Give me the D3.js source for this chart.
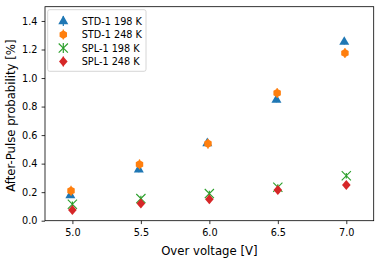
<!DOCTYPE html>
<html>
<head>
<meta charset="utf-8">
<script src="https://cdn.jsdelivr.net/npm/d3@7"></script>
<style>
  body { margin: 0; background: #fff; }
  text { font-family: "DejaVu Sans", sans-serif; }
</style>
</head>
<body>
<div id="chart"></div>
<script>
// series
const names = ["STD-1 198 K", "STD-1 248 K", "SPL-1 198 K", "SPL-1 248 K"];
const colors = ["#1f77b4", "#ff7f0e", "#2ca02c", "#d62728"];
const shapes = ["triangle", "hexagon", "cross", "diamond"];

const xStd198 = [4.985, 5.485, 5.985, 6.49, 6.985];
const yStd198 = [0.18, 0.36, 0.545, 0.85, 1.255];
const eStd198 = [0.02, 0.02, 0.02, 0.02, 0.02];

const xStd248 = [4.99, 5.49, 5.99, 6.495, 6.99];
const yStd248 = [0.21, 0.395, 0.54, 0.895, 1.175];
const eStd248 = [0.035, 0.035, 0.035, 0.035, 0.035];

const xSpl198 = [5.0, 5.5, 6.0, 6.5, 7.0];
const ySpl198 = [0.115, 0.155, 0.19, 0.235, 0.315];
const eSpl198 = [0.02, 0.02, 0.02, 0.02, 0.02];

const xSpl248 = [5.0, 5.5, 6.0, 6.5, 7.0];
const ySpl248 = [0.075, 0.12, 0.15, 0.215, 0.25];
const eSpl248 = [0.015, 0.015, 0.015, 0.015, 0.015];

const xTicks = [5.0, 5.5, 6.0, 6.5, 7.0];
const yTicks = [0.0, 0.2, 0.4, 0.6, 0.8, 1.0, 1.2, 1.4];

const series = [
  {x: xStd198, y: yStd198, e: eStd198},
  {x: xStd248, y: yStd248, e: eStd248},
  {x: xSpl198, y: ySpl198, e: eSpl198},
  {x: xSpl248, y: ySpl248, e: eSpl248}
].map((s, i) => ({name: names[i], color: colors[i], shape: shapes[i],
  pts: s.x.map((v, j) => ({x: v, y: s.y[j], e: s.e[j]}))}));

const W = 381, H = 260;
const margin = {top: 6.7, right: 7.3, bottom: 39.3, left: 45};
const width = W - margin.left - margin.right,
  height = H - margin.top - margin.bottom;

const svg = d3.select("#chart").append("svg")
  .attr("width", W).attr("height", H);
const g = svg.append("g")
  .attr("transform", "translate(" + margin.left + "," + margin.top + ")");

const x = d3.scaleLinear().domain([4.8, 7.2]).range([0, width]);
const y = d3.scaleLinear().domain([0, 1.5]).range([height, 0]);

const fs = 9.7;      // tick + legend text
const fsLabel = 11.7; // axis titles

// axes
const xAxis = g.append("g").attr("transform", "translate(0," + height + ")")
  .call(d3.axisBottom(x).tickValues(xTicks).tickFormat(d3.format(".1f")).tickSizeOuter(0).tickSize(3.4).tickPadding(4.8));
const yAxis = g.append("g")
  .call(d3.axisLeft(y).tickValues(yTicks).tickFormat(d3.format(".1f")).tickSizeOuter(0).tickSize(3.4).tickPadding(4.2));
[xAxis, yAxis].forEach(a => {
  a.select(".domain").remove();
  a.selectAll("line").attr("stroke", "#000").attr("stroke-width", 0.8);
  a.selectAll("text").attr("font-size", fs).attr("fill", "#000")
    .style("font-family", "'DejaVu Sans', sans-serif");
});

// frame
g.append("rect").attr("x", 0).attr("y", 0).attr("width", width).attr("height", height)
  .attr("fill", "none").attr("stroke", "#000").attr("stroke-width", 0.8);

// labels
svg.append("text").attr("x", margin.left + width / 2).attr("y", 254.5)
  .attr("text-anchor", "middle").attr("font-size", fsLabel).text("Over voltage [V]");
svg.append("text")
  .attr("transform", "translate(14.5," + (margin.top + height / 2 + 2) + ") rotate(-90)")
  .attr("text-anchor", "middle").attr("font-size", fsLabel).text("After-Pulse probability [%]");

function marker(sel, shape, color) {
  if (shape === "triangle") {
    sel.append("path").attr("d", "M0,-5.5L5,3.2L-5,3.2Z").attr("fill", color);
  } else if (shape === "hexagon") {
    const pts = d3.range(6).map(k => {
      const a = Math.PI / 3 * k - Math.PI / 2;
      return [4.3 * Math.cos(a), 4.3 * Math.sin(a)];
    });
    sel.append("path").attr("d", d3.line()(pts) + "Z").attr("fill", color);
  } else if (shape === "cross") {
    sel.append("path").attr("d", "M-4.6,-4.6L4.6,4.6M-4.6,4.6L4.6,-4.6")
      .attr("stroke", color).attr("stroke-width", 1.1).attr("fill", "none");
  } else {
    sel.append("path").attr("d", "M0,-5L4.3,0L0,5L-4.3,0Z").attr("fill", color);
  }
}

// points with error bars
series.forEach(s => {
  const sg = g.append("g");
  s.pts.forEach(p => {
    sg.append("line")
      .attr("x1", x(p.x)).attr("x2", x(p.x))
      .attr("y1", y(p.y - p.e)).attr("y2", y(p.y + p.e))
      .attr("stroke", s.color).attr("stroke-width", 1.2);
    const m = sg.append("g").attr("transform", "translate(" + x(p.x) + "," + y(p.y) + ")");
    marker(m, s.shape, s.color);
  });
});

// legend
const lg = svg.append("g").attr("transform", "translate(47.7,9.7)");
lg.append("rect").attr("width", 98.3).attr("height", 61.6).attr("rx", 2)
  .attr("fill", "#fff").attr("fill-opacity", 0.8).attr("stroke", "#ccc").attr("stroke-width", 0.8);
series.forEach((s, i) => {
  const cy = 11.4 + i * 13.5;
  const row = lg.append("g").attr("transform", "translate(15.6," + cy + ")");
  row.append("line").attr("x1", 0).attr("x2", 0).attr("y1", -5).attr("y2", 5)
    .attr("stroke", s.color).attr("stroke-width", 1.2);
  marker(row, s.shape, s.color);
  lg.append("text").attr("x", 34).attr("y", cy + 3.5).attr("font-size", fs).text(s.name);
});
</script>
</body>
</html>
